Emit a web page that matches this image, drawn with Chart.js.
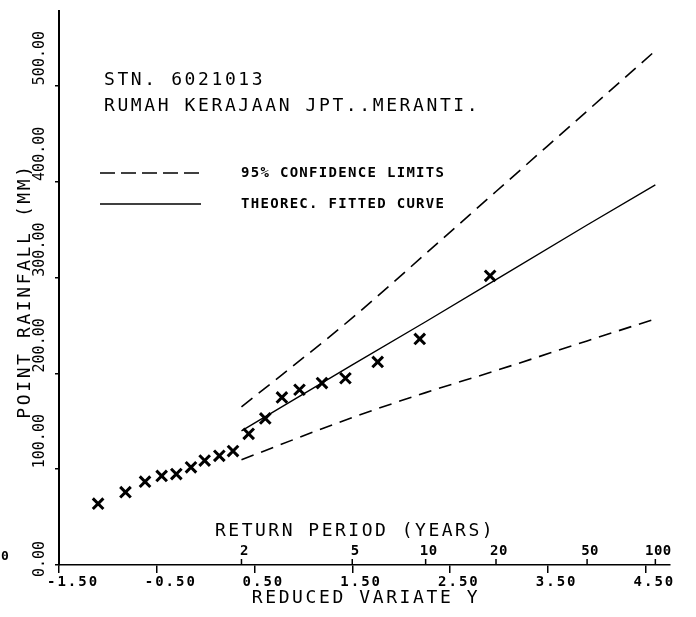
<!DOCTYPE html>
<html>
<head>
<meta charset="utf-8">
<script src="https://cdn.jsdelivr.net/npm/chart.js@4.4.0/dist/chart.umd.min.js"></script>
<style>
  html, body { margin: 0; padding: 0; background: #fff; }
</style>
</head>
<body>
<canvas id="chart" width="696" height="617"></canvas>
<script>
// observed annual maxima, plotted against Gumbel reduced variate
const obsVariate = [-1.10, -0.82, -0.62, -0.45, -0.30, -0.15, -0.01, 0.14, 0.28,
  0.44, 0.61, 0.78, 0.96, 1.19, 1.43, 1.76, 2.19, 2.91];
const obsRainfall = [64, 76, 87, 93, 95, 102, 109, 114, 119,
  137, 153, 175, 183, 190, 195, 212, 236, 302];

// fitted curve and 95% limits, given at return periods (years)
const returnPeriods = [2, 5, 10, 20, 50, 100];
const fittedRainfall = [140, 209, 254, 298, 355, 397];
const upperLimit = [165, 258, 325, 390, 474, 537];
const lowerLimit = [110, 154, 180, 203, 234, 257];

// axis ticks
const xTickValues = [-1.5, -0.5, 0.5, 1.5, 2.5, 3.5, 4.5];
const xTickLabels = ["-1.50", "-0.50", "0.50", "1.50", "2.50", "3.50", "4.50"];
const yTickValues = [0, 100, 200, 300, 400, 500];
const yTickLabels = ["0.00", "100.00", "200.00", "300.00", "400.00", "500.00"];

const MONO = '"DejaVu Sans Mono", "Liberation Mono", monospace';

// Gumbel reduced variate for a return period T
function reducedVariate(t) {
  return -Math.log(-Math.log(1 - 1 / t));
}

function curve(values) {
  return returnPeriods.map((t, i) => ({ x: reducedVariate(t), y: values[i] }));
}

function text(ctx, str, x, y, font, spacing, align, angle) {
  ctx.save();
  ctx.font = font;
  ctx.letterSpacing = (spacing || 0) + "px";
  ctx.textAlign = align || "left";
  ctx.textBaseline = "middle";
  ctx.fillStyle = "#000";
  ctx.translate(x, y);
  if (angle) ctx.rotate(angle);
  ctx.fillText(str, 0, 0);
  ctx.restore();
}

// labels, legend and the return period axis
const annotations = {
  id: "annotations",
  afterDraw(chart) {
    const ctx = chart.ctx;
    const xs = chart.scales.x;
    const ys = chart.scales.y;
    const base = chart.chartArea.bottom;

    text(ctx, "STN. 6021013", 104, 80, "18px " + MONO, 2.6);
    text(ctx, "RUMAH KERAJAAN JPT..MERANTI.", 104, 106, "18px " + MONO, 2.6);

    // legend
    ctx.save();
    ctx.strokeStyle = "#000";
    ctx.lineWidth = 1.5;
    ctx.setLineDash([15, 6]);
    ctx.beginPath();
    ctx.moveTo(100, 173);
    ctx.lineTo(201, 173);
    ctx.stroke();
    ctx.setLineDash([]);
    ctx.beginPath();
    ctx.moveTo(100, 204);
    ctx.lineTo(201, 204);
    ctx.stroke();
    ctx.restore();
    text(ctx, "95% CONFIDENCE LIMITS", 241, 173, "bold 14px " + MONO, 1.3);
    text(ctx, "THEOREC. FITTED CURVE", 241, 204, "bold 14px " + MONO, 1.3);

    // y tick labels, reading upwards from each tick
    yTickValues.forEach((v, i) => {
      const start = v === 0 ? 12 : -1;
      text(ctx, yTickLabels[i], 40, ys.getPixelForValue(v) + start, "15px " + MONO, 0, "left", -Math.PI / 2);
    });
    text(ctx, "POINT RAINFALL (MM)", 25, 291, "18px " + MONO, 2.6, "center", -Math.PI / 2);

    // x tick labels
    xTickValues.forEach((v, i) => {
      text(ctx, xTickLabels[i], xs.getPixelForValue(v) - 12, 582, "bold 14px " + MONO, 2);
    });
    text(ctx, "REDUCED VARIATE Y", 366, 598, "18px " + MONO, 2.6, "center");

    // return period axis on top of the x axis line
    ctx.save();
    ctx.strokeStyle = "#000";
    ctx.lineWidth = 1.5;
    returnPeriods.forEach((t) => {
      const px = xs.getPixelForValue(reducedVariate(t));
      ctx.beginPath();
      ctx.moveTo(px, base);
      ctx.lineTo(px, base - 6);
      ctx.stroke();
      text(ctx, String(t), px + 3, 551, "bold 14px " + MONO, 0.5, "center");
    });
    ctx.restore();
    text(ctx, "RETURN PERIOD (YEARS)", 215, 531, "18px " + MONO, 2.5);

    text(ctx, "0", 1, 557, "bold 13px " + MONO, 0);
  }
};

const ctx = document.getElementById("chart").getContext("2d");

const rainfallChart = new Chart(ctx, {
  type: "scatter",
  data: {
    datasets: [
      {
        label: "Observed",
        data: obsVariate.map((x, i) => ({ x: x, y: obsRainfall[i] })),
        pointStyle: "crossRot",
        pointRadius: 7.5,
        pointBorderWidth: 3,
        borderColor: "#000",
        backgroundColor: "#000",
      },
      {
        label: "Theorec. fitted curve",
        data: curve(fittedRainfall),
        showLine: true,
        borderColor: "#000",
        borderWidth: 1.4,
        pointRadius: 0,
      },
      {
        label: "Upper 95% limit",
        data: curve(upperLimit),
        showLine: true,
        borderColor: "#000",
        borderWidth: 1.6,
        borderDash: [14, 8],
        cubicInterpolationMode: "monotone",
        pointRadius: 0,
      },
      {
        label: "Lower 95% limit",
        data: curve(lowerLimit),
        showLine: true,
        borderColor: "#000",
        borderWidth: 1.6,
        borderDash: [13, 8],
        cubicInterpolationMode: "monotone",
        pointRadius: 0,
      },
    ],
  },
  options: {
    responsive: false,
    animation: false,
    layout: {
      padding: { top: 10, right: 26, left: 0, bottom: 0 },
    },
    plugins: {
      legend: { display: false },
      tooltip: { enabled: false },
    },
    scales: {
      x: {
        type: "linear",
        min: -1.5,
        max: 4.75,
        afterBuildTicks: (scale) => {
          scale.ticks = xTickValues.map((v) => ({ value: v }));
        },
        afterFit: (scale) => {
          scale.height = 52;
        },
        ticks: { display: false },
        grid: { drawOnChartArea: false, color: "#000", tickLength: 8, lineWidth: 1.5 },
        border: { color: "#000", width: 1.5 },
      },
      y: {
        min: 0,
        max: 579,
        afterBuildTicks: (scale) => {
          scale.ticks = yTickValues.map((v) => ({ value: v }));
        },
        afterFit: (scale) => {
          scale.width = 59;
        },
        ticks: { display: false },
        grid: { drawOnChartArea: false, color: "#000", tickLength: 4, lineWidth: 1.5 },
        border: { color: "#000", width: 2 },
      },
    },
  },
  plugins: [annotations],
});
</script>
</body>
</html>
